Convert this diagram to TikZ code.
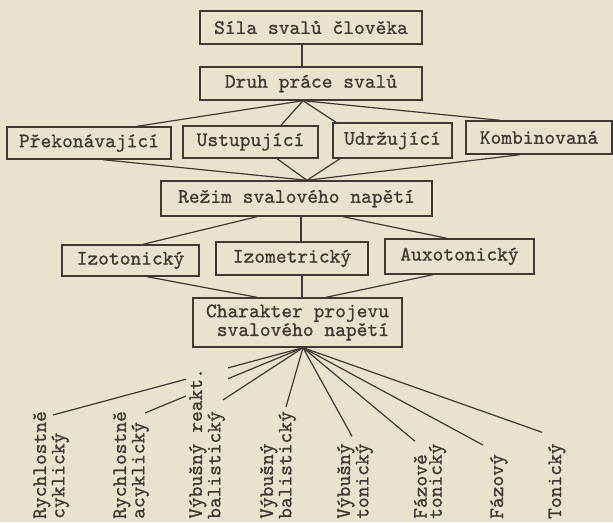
\documentclass[tikz,border=0pt]{standalone}
\usepackage{fontspec}
\newfontfamily\twfam{lmmono10-regular.otf}[FakeBold=0.8]
\definecolor{paper}{HTML}{E8E2CE}
\definecolor{ink}{HTML}{3E3934}
\newcommand{\twfont}{\twfam\fontsize{20.5}{15}\selectfont}
\begin{document}
\begin{tikzpicture}[x=1pt,y=-1pt,
  box/.style={draw=ink, line width=1.4pt, inner sep=0pt, align=center,
              font=\twfont, text=ink},
  link/.style={draw=ink, line width=1.2pt},
  lbl/.style={rotate=90, anchor=west, align=left, inner sep=0pt,
              font=\twfont, text=ink}]
\useasboundingbox (0,0) rectangle (613,522);
\fill[paper] (0,0) rectangle (613,522);

% --- boxes ---
\node[box, minimum width=222pt, minimum height=33pt] (sila)  at (311,27.5)  {Síla svalů člověka};
\node[box, minimum width=222pt, minimum height=33pt] (druh)  at (311,83.5)  {Druh práce svalů};
\node[box, minimum width=164pt, minimum height=32pt] (prek)  at (89,143)    {Překonávající};
\node[box, minimum width=135pt, minimum height=32pt] (ustu)  at (250.5,142) {Ustupující};
\node[box, minimum width=119pt, minimum height=35pt] (udrz)  at (392.5,140.5) {Udržující};
\node[box, minimum width=146pt, minimum height=33pt] (komb)  at (539,137.5) {Kombinovaná};
\node[box, minimum width=271pt, minimum height=35pt] (rezim) at (296.5,198.5) {Režim svalového napětí};
\node[box, minimum width=137pt, minimum height=31pt] (izot)  at (130.5,260.5) {Izotonický};
\node[box, minimum width=152pt, minimum height=33pt] (izom)  at (292,258.5)  {Izometrický};
\node[box, minimum width=149pt, minimum height=35pt] (auxo)  at (459.5,256.5) {Auxotonický};
\node[box, minimum width=209pt, minimum height=49pt, align=left] (char) at (297.5,322.5)
  {Charakter projevu\\~svalového napětí};

% --- connectors between boxes ---
\draw[link] ([xshift=-9pt]sila.south) -- ([xshift=-9pt]druh.north);
\coordinate (fanA) at ([xshift=-8pt]druh.south);
\draw[link] (fanA) -- ([xshift=48pt]prek.north);
\draw[link] (fanA) -- ([xshift=30.5pt]ustu.north);
\draw[link] (fanA) -- ([xshift=-56.5pt]udrz.north);
\draw[link] (fanA) -- ([xshift=-39pt]komb.north);
\coordinate (fanB) at ([xshift=10.5pt]rezim.north);
\draw[link] ([xshift=14pt]prek.south) -- (fanB);
\draw[link] ([xshift=26.5pt]ustu.south) -- (fanB);
\draw[link] ([xshift=-52.5pt]udrz.south) -- (fanB);
\draw[link] ([xshift=-19pt]komb.south) -- (fanB);
\draw[link] ([xshift=-39.5pt]rezim.south) -- ([xshift=12.5pt]izot.north);
\draw[link] ([xshift=4.5pt]rezim.south) -- ([xshift=9pt]izom.north);
\draw[link] ([xshift=46.5pt]rezim.south) -- ([xshift=-12.5pt]auxo.north);
\draw[link] ([xshift=16.5pt]izot.south) -- ([xshift=-40.5pt]char.north);
\draw[link] ([xshift=10pt]izom.south) -- ([xshift=4.5pt]char.north);
\draw[link] ([xshift=-26.5pt]auxo.south) -- ([xshift=28.5pt]char.north);

% --- vertical labels of the lowest level ---
\node[lbl] (l1) at (51,519)  {Rychlostně\\cyklický};
\node[lbl] (l2) at (131,519) {Rychlostně\\acyklický};
\node[lbl] (l4) at (278,519) {Výbušný\\balistický};
\node[lbl] (l5) at (355,519) {Výbušný\\tonický};
\node[lbl] (l6) at (430,519) {Fázově\\tonický};
\node[lbl] (l7) at (499,519) {Fázový};
\node[lbl] (l8) at (557,519) {Tonický};

\coordinate (fanC) at ([xshift=5.5pt]char.south);
\draw[link] (fanC) -- ([shift={(2,4)}]l1.east);
\draw[link] (fanC) -- ([shift={(14,2)}]l2.east);
\draw[link] (fanC) -- ([shift={(8,-4)}]l4.east);
\draw[link] (fanC) -- ([shift={(-3,-7)}]l5.east);
\draw[link] (fanC) -- ([shift={(-15,-2)}]l6.east);
\draw[link] (fanC) -- ([shift={(-16,-9)}]l7.east);
\draw[link] (fanC) -- ([shift={(-15,-11)}]l8.east);

% this label is typed over the two leftmost lines
\node[lbl, fill=paper, inner sep=3pt] (l3) at (207,522) {Výbušný reakt.\\balistický};
\draw[link] (fanC) -- ([shift={(16,35)}]l3.east);
\end{tikzpicture}
\end{document}
